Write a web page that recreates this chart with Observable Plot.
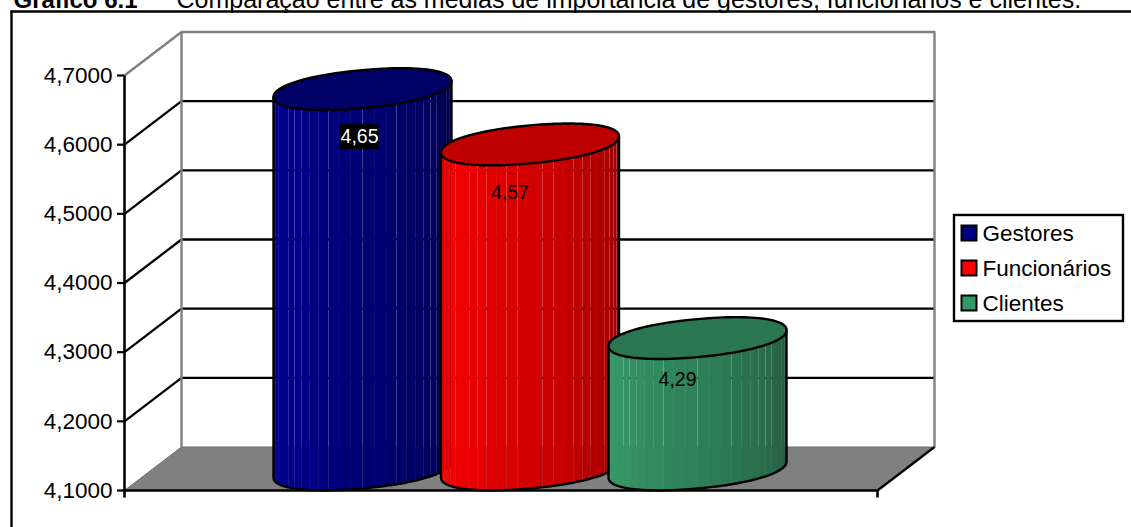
<!DOCTYPE html>
<html lang="pt">
<head>
<meta charset="utf-8">
<title>Gráfico 6.1</title>
<script src="https://cdn.jsdelivr.net/npm/d3@7"></script>
<script src="https://cdn.jsdelivr.net/npm/@observablehq/plot@0.6"></script>
<style>
  html, body { margin: 0; padding: 0; background: #fff; overflow: hidden; }
</style>
</head>
<body>
<script>
// Values of the chart
const series = ["Gestores", "Funcionários", "Clientes"];
const means = [4.65, 4.57, 4.29];
const meanLabels = ["4,65", "4,57", "4,29"];
const axisTicks = [4.1, 4.2, 4.3, 4.4, 4.5, 4.6, 4.7];

// Palette per series: swatch, cap, lit side, shaded side
const swatch = ["#000080", "#ff0000", "#339966"];
const caps = ["#000066", "#bf0000", "#2a7650"];
const lit = ["#000094", "#ff0000", "#379c6b"];
const shaded = ["#00004c", "#960000", "#235a3f"];

// Layout of the pseudo-3D box, in pixels
const W = 1131, H = 527;
const y0 = 490, y1 = 75, yMin = 4.1, yMax = 4.7;
const unit = (yMax - yMin) / (y0 - y1);
const at = (py) => yMin + (y0 - py) * unit;   // page pixel row to axis value
const px = (p) => p * unit;                   // pixel length to axis length
const left = 124, right = 877, depthX = 57, depthY = 43.5;

// Cylinder geometry: each one stands halfway into the box depth
const centers = [362, 529.5, 697];
const radius = 89, tiltPx = 8, minorPx = 19, baseLift = 21, roundness = 0.93;
const facets = 26;
const labelDx = [-3, -20, -20], labelDy = [48, 48, 42];

// Slightly squared-off rim, sheared so its right end sits higher than its left
const warp = (v) => Math.sign(v) * Math.pow(Math.abs(v), roundness);
const rimX = (c, t) => c + radius * warp(Math.cos(t));
const rimY = (level, t) => level + px(minorPx * warp(Math.sin(t)) + tiltPx * warp(Math.cos(t)));

// One closed polygon per record group: side facets, then outlines
const facetRows = [], capRows = [], hullRows = [];
series.forEach((name, s) => {
  const c = centers[s];
  const top = means[s] + px(baseLift);
  const base = yMin + px(baseLift);
  const ramp = d3.interpolateRgb(lit[s], shaded[s]);
  for (let i = 0; i < facets; i++) {
    const a = Math.PI + (Math.PI * i) / facets;
    const b = Math.PI + (Math.PI * (i + 1)) / facets;
    const fill = ramp(Math.pow(i / (facets - 1), 1.2));
    const z = `${s}-${i}`;
    facetRows.push(
      {s, z, fill, x: rimX(c, a), y: rimY(top, a)},
      {s, z, fill, x: rimX(c, b), y: rimY(top, b)},
      {s, z, fill, x: rimX(c, b), y: rimY(base, b)},
      {s, z, fill, x: rimX(c, a), y: rimY(base, a)}
    );
  }
  for (let i = 0; i <= 120; i++) {
    const t = (2 * Math.PI * i) / 120;
    capRows.push({s, x: rimX(c, t), y: rimY(top, t)});
  }
  hullRows.push({s, x: rimX(c, Math.PI), y: rimY(top, Math.PI)});
  for (let i = 0; i <= 60; i++) {
    const t = Math.PI + (Math.PI * i) / 60;
    hullRows.push({s, x: rimX(c, t), y: rimY(base, t)});
  }
  hullRows.push({s, x: rimX(c, 2 * Math.PI), y: rimY(top, 2 * Math.PI)});
});

// Gridlines run along the side wall and then across the back wall
const inner = axisTicks.slice(1, -1);
const gridSide = inner.map((v) => ({x1: left, y1: v, x2: left + depthX, y2: v + px(depthY)}));
const gridBack = inner.map((v) => ({x1: left + depthX, y1: v + px(depthY), x2: right + depthX, y2: v + px(depthY)}));

const floor = [
  {x: left, y: yMin},
  {x: left + depthX, y: yMin + px(depthY)},
  {x: right + depthX, y: yMin + px(depthY)},
  {x: right, y: yMin}
];
const wall = [
  {x: left, y: yMax},
  {x: left + depthX, y: yMax + px(depthY)},
  {x: right + depthX, y: yMax + px(depthY)},
  {x: right + depthX, y: yMin + px(depthY)}
];

const cylinderMarks = series.flatMap((name, s) => [
  Plot.line(facetRows.filter((d) => d.s === s), {x: "x", y: "y", z: "z", fill: "fill", stroke: "none"}),
  Plot.line(hullRows.filter((d) => d.s === s), {x: "x", y: "y", stroke: "#000", strokeWidth: 2.4}),
  Plot.line(capRows.filter((d) => d.s === s), {x: "x", y: "y", fill: caps[s], stroke: "#000", strokeWidth: 2.4})
]);

const labelRows = series.map((name, s) => ({
  text: meanLabels[s],
  x: centers[s] + labelDx[s],
  y: means[s] + px(baseLift - labelDy[s])
}));

const legendRows = series.map((name, s) => ({
  name,
  color: swatch[s],
  y: at(233 + 35 * s)
}));

const chart = Plot.plot({
  width: W,
  height: H,
  marginLeft: left,
  marginTop: 0,
  marginRight: 0,
  marginBottom: 0,
  style: {background: "#fff", fontFamily: "'Liberation Sans', Arial, sans-serif", overflow: "hidden"},
  x: {domain: [0, W], range: [0, W], axis: null},
  y: {domain: [yMin, yMax], range: [y0, y1], axis: null},
  color: {type: "identity"},
  marks: [
    // Page heading, partly above the top edge
    Plot.text(["Gráfico 6.1"], {x: 13, y: at(7), text: (d) => d, textAnchor: "start", lineAnchor: "bottom", fontWeight: "bold", fontSize: 24}),
    Plot.text(["Comparação entre as médias de importância de gestores, funcionários e clientes."], {x: 176, y: at(7), text: (d) => d, textAnchor: "start", lineAnchor: "bottom", fontSize: 25}),

    // Chart area border: only the top and left edges fall inside the page
    Plot.link([{x1: 10, y1: at(11), x2: W, y2: at(11)}, {x1: 11, y1: at(10), x2: 11, y2: at(H)}], {x1: "x1", y1: "y1", x2: "x2", y2: "y2", stroke: "#000", strokeWidth: 2.4}),

    // Box: floor, back walls, gridlines
    Plot.line(floor, {x: "x", y: "y", fill: "#808080", stroke: "#6e6e6e", strokeWidth: 1}),
    Plot.link(gridSide, {x1: "x1", y1: "y1", x2: "x2", y2: "y2", stroke: "#000", strokeWidth: 2.3}),
    Plot.link(gridBack, {x1: "x1", y1: "y1", x2: "x2", y2: "y2", stroke: "#000", strokeWidth: 2.3}),
    Plot.line(wall, {x: "x", y: "y", stroke: "#808080", strokeWidth: 2.4}),
    Plot.link([{x: left + depthX}], {x1: "x", x2: "x", y1: yMax + px(depthY), y2: yMin + px(depthY), stroke: "#808080", strokeWidth: 2.4}),
    Plot.link([{}], {x1: right, y1: yMin, x2: right + depthX, y2: yMin + px(depthY), stroke: "#000", strokeWidth: 2.3}),

    // Axes
    Plot.axisY({anchor: "left", ticks: axisTicks, tickFormat: (d) => d.toFixed(4).replace(".", ","), tickSize: 7, tickPadding: 5, fontSize: 22.5, strokeWidth: 2.2, color: "#000"}),
    Plot.link([{}], {x1: left, x2: left, y1: yMax, y2: at(497), stroke: "#000", strokeWidth: 2.6}),
    Plot.link([{}], {x1: left, x2: right, y1: yMin, y2: yMin, stroke: "#000", strokeWidth: 2.6}),
    Plot.link([{}], {x1: right, x2: right, y1: yMin, y2: at(497), stroke: "#000", strokeWidth: 2.6}),

    // Cylinders, back to front
    ...cylinderMarks,

    // Value labels
    Plot.rect(labelRows.slice(0, 1), {x1: (d) => d.x - 19.5, x2: (d) => d.x + 19.5, y1: (d) => d.y - px(12.5), y2: (d) => d.y + px(12.5), fill: "#000"}),
    Plot.text(labelRows, {x: "x", y: "y", text: "text", fontSize: 19.5, fill: (d, i) => (i === 0 ? "#fff" : "#000")}),

    // Legend
    Plot.rect([{}], {x1: 954, x2: 1123, y1: at(215), y2: at(321), fill: "#fff", stroke: "#000", strokeWidth: 2.4}),
    Plot.rect(legendRows, {x1: 961.5, x2: 976.5, y1: (d) => d.y - px(7.5), y2: (d) => d.y + px(7.5), fill: "color", stroke: "#000", strokeWidth: 2}),
    Plot.text(legendRows, {x: 982, y: "y", text: "name", textAnchor: "start", fontSize: 22.5})
  ]
});

document.body.appendChild(chart);
</script>
</body>
</html>
